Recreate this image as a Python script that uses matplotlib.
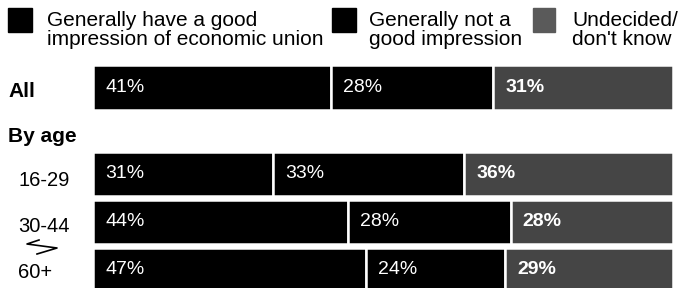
import matplotlib.pyplot as plt
from matplotlib.lines import Line2D
from matplotlib.patches import Rectangle

plt.rcParams['font.family'] = ['Liberation Sans', 'DejaVu Sans']

# data
rows = ["All", "16-29", "30-44", "60+"]
row_pos = [0, 1.8, 2.8, 3.8]
good = [41, 31, 44, 47]
not_good = [28, 33, 28, 24]
undecided = [31, 36, 28, 29]
series_names = ["Generally have a good\nimpression of economic union",
                "Generally not a\ngood impression",
                "Undecided/\ndon't know"]
colors = ["black", "black", "#454545"]

W, H = 683, 288
fig = plt.figure(figsize=(W / 100, H / 100), dpi=100)

# bars run from x=93px to x=673px, rows 48px apart, "All" centred at y=87.5px
ax = fig.add_axes([93 / W, 0, 580 / W, 228 / H])
ax.set_xlim(0, 100)
ax.set_ylim((288 - 87.5) / 48, (60 - 87.5) / 48)
ax.axis("off")

lefts = [0] * len(rows)
for i, vals in enumerate([good, not_good, undecided]):
    ax.barh(row_pos, vals, left=lefts, height=0.93, color=colors[i],
            edgecolor="white", linewidth=1.8)
    for y, l, v in zip(row_pos, lefts, vals):
        ax.text(l + 2.1, y, f"{v}%", color="white", va="center", ha="left",
                fontsize=14, fontweight="bold" if i == 2 else "normal")
    lefts = [a + b for a, b in zip(lefts, vals)]

# row labels
fig.text(8 / W, 1 - 97 / H, "All", fontsize=15, fontweight="bold", va="baseline")
fig.text(8 / W, 1 - 142 / H, "By age", fontsize=15, fontweight="bold", va="baseline")
for lab, ypx in zip(rows[1:], [186, 232, 278]):
    fig.text(18 / W, 1 - ypx / H, lab, fontsize=14.5, va="baseline")

# squiggle between 30-44 and 60+
zx = [39, 27, 57, 37]
zy = [240, 244, 248, 254]
fig.add_artist(Line2D([x / W for x in zx], [1 - y / H for y in zy],
                      color="black", linewidth=1.2))

# legend
sq = [(8, 8, 24, 24), (332, 8, 24, 24), (533, 8, 22, 24)]
text_x = [47, 369, 572]
leg_colors = ["black", "black", "#5a5a5a"]
for name, c, (sx, sy, sw, sh), tx in zip(series_names, leg_colors, sq, text_x):
    fig.add_artist(Rectangle((sx / W, 1 - (sy + sh) / H), sw / W, sh / H,
                             transform=fig.transFigure, color=c))
    fig.text(tx / W, 1 - 11 / H, name, fontsize=15, va="top", ha="left",
             linespacing=1.0)

fig.savefig("out.png", dpi=100)
